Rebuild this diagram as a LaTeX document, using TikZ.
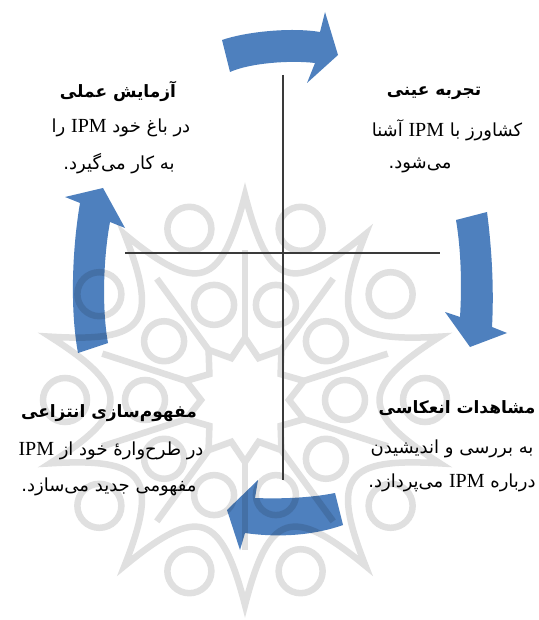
\documentclass[tikz,border=0pt]{standalone}
\usepackage{fontspec}
\TeXXeTstate=1
\newfontfamily\fa[Script=Arabic]{DejaVu Sans}
\newfontfamily\lat{Liberation Serif}
\definecolor{arrowblue}{RGB}{78,128,190}
\definecolor{wmgray}{RGB}{224,224,224}
\definecolor{axiscol}{RGB}{58,58,58}
\newcommand\IPMword{\beginL{\lat\fontsize{20}{24}\selectfont IPM}\endL}
\begin{document}
\begin{tikzpicture}[x=1pt,y=-1pt,
  wm/.style={draw=wmgray, line width=6.5pt},
  cyc/.style={fill=arrowblue, blend mode=multiply},
  axisline/.style={draw=axiscol, line width=1.8pt},
  head/.style={font=\fa\bfseries\fontsize{17}{20}\selectfont, inner sep=0pt},
  body/.style={font=\fa\fontsize{18}{22}\selectfont, inner sep=0pt}]
\useasboundingbox (0,0) rectangle (538,620);
\fill[white] (0,0) rectangle (538,620);
% watermark
\begin{scope}
\clip (0,0) rectangle (538,620);
\begin{scope}[shift={(245,400)}]
\draw[wm] (90:205) \foreach \k in {1,...,10}{ .. controls (90+36*\k-24:115) and (90+36*\k-12:115) .. (90+36*\k:205) } -- cycle;
\foreach \k in {0,...,9}{
  \draw[wm] (36*\k:100) circle (20);
  \draw[wm] (36*\k:180) circle (22);
  \draw[wm] (90+36*\k:62) -- (90+36*\k:150);
}
\draw[wm] (90:62) \foreach \k in {1,...,10}{ -- (90+36*\k-18:44) -- (90+36*\k:62) } -- cycle;
\end{scope}
\end{scope}
% cycle arrows
\path[cyc] (222,40) .. controls (245,32) and (290,27) .. (320,32) -- (325,12) -- (338,55) -- (307,83) -- (315,63) .. controls (290,60) and (250,63) .. (230,72) -- cycle;
\path[cyc] (456,220) -- (487,212) .. controls (492,250) and (494,290) .. (492,327) -- (507,333) -- (470,347) -- (445,312) -- (460,317) .. controls (462,285) and (461,250) .. (456,220) -- cycle;
\path[cyc] (335,493) -- (343,525) .. controls (315,535) and (280,538) .. (245,533) -- (240,550) -- (227,510) -- (258,480) -- (255,498) .. controls (280,499) and (310,498) .. (335,493) -- cycle;
\path[cyc] (78,353) .. controls (70,310) and (72,250) .. (80,203) -- (65,197) -- (103,188) -- (125,228) -- (110,222) .. controls (103,260) and (102,310) .. (108,343) -- cycle;
% axes
\coordinate (vt) at (283,75);
\coordinate (vb) at (283,480);
\coordinate (hl) at (125,253);
\coordinate (hr) at (440,253);
\draw[axisline] (vt) -- (vb);
\draw[axisline] (hl) -- (hr);
% texts
\node[head] (tlh) at (118,91) {\beginR آزمایش عملی\endR};
\node[body] (tl1) at (121,128) {\beginR در باغ خود \IPMword{} را\endR};
\node[body] (tl2) at (119,164) {.\beginR به کار می^^^^200cگیرد\endR};
\node[head] (trh) at (434,93) {\beginR تجربه عینی\endR};
\node[body] (tr1) at (447,130) {\beginR کشاورز با \IPMword{} آشنا\endR};
\node[body] (tr2) at (420,165) {.\beginR می^^^^200cشود\endR};
\node[head] (brh) at (457,408) {\beginR مشاهدات انعکاسی\endR};
\node[body] (br1) at (452,449) {\beginR به بررسی و اندیشیدن\endR};
\node[body] (br2) at (452,483) {.\beginR درباره \IPMword{} می^^^^200cپردازد\endR};
\node[head] (blh) at (109,413) {\beginR مفهوم^^^^200cسازی انتزاعی\endR};
\node[body] (bl1) at (111,451) {\beginR در طرح^^^^200cواره^^^^0654 خود از \IPMword\endR};
\node[body] (bl2) at (109,487) {.\beginR مفهومی جدید می^^^^200cسازد\endR};
\end{tikzpicture}
\end{document}
